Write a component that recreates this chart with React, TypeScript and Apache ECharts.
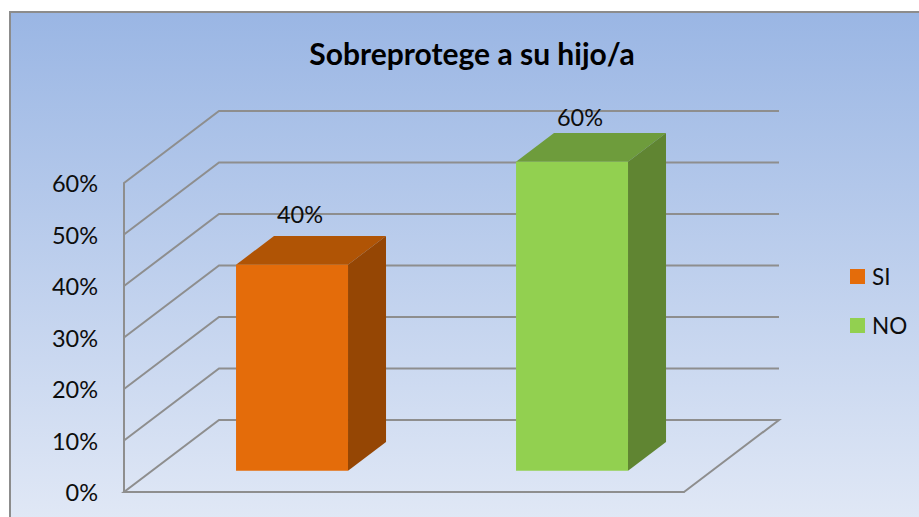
import React, { useEffect, useRef } from "react";
import * as echarts from "echarts";

const titleText = "Sobreprotege a su hijo/a";
const categories = ["SI", "NO"];
const values = [0.4, 0.6];
const axisTicks = [0, 0.1, 0.2, 0.3, 0.4, 0.5, 0.6];
const frontColors = ["#E46C0A", "#92D050"];
const topColors = ["#B05405", "#6E9C3C"];
const sideColors = ["#954604", "#608532"];

const FONT = "Lato, Carlito, 'Open Sans', sans-serif";
const LINE = "#8E8E8E";
const DEPTH_X = 95;
const DEPTH_Y = -72;

const pct = (v: number) => `${Math.round(v * 100)}%`;

export default function App() {
  const ref = useRef<HTMLDivElement>(null);
  useEffect(() => {
    const chart = echarts.init(ref.current!, undefined, { renderer: "svg" });

    const wallItem = (params: any, api: any) => {
      const v = api.value(0);
      const [x0, y0] = api.coord([0, v]);
      const bw = api.size([1, 0])[0];
      const x1 = x0 - bw / 2;
      const x2 = x1 + bw * 2;
      const points =
        v === 0
          ? [
              [x2, y0],
              [x1, y0],
              [x1 + DEPTH_X, y0 + DEPTH_Y],
              [x2 + DEPTH_X, y0 + DEPTH_Y],
              [x2, y0],
            ]
          : [
              [x1, y0],
              [x1 + DEPTH_X, y0 + DEPTH_Y],
              [x2 + DEPTH_X, y0 + DEPTH_Y],
            ];
      return {
        type: "polyline",
        shape: { points },
        style: { stroke: LINE, lineWidth: 2, fill: "none" },
      };
    };

    const barItem = (idx: number) => (params: any, api: any) => {
      const cat = api.value(0);
      const val = api.value(1);
      const [cx, yTop0] = api.coord([cat, val]);
      const [, yBase0] = api.coord([cat, 0]);
      const bw = api.size([1, 0])[0] * 0.4;
      const ox = DEPTH_X * 0.295;
      const oy = DEPTH_Y * 0.295;
      const dx = DEPTH_X * 0.4;
      const dy = DEPTH_Y * 0.4;
      const l = cx - bw / 2 + ox;
      const r = cx + bw / 2 + ox;
      const t = yTop0 + oy;
      const b = yBase0 + oy;
      const poly = (points: number[][], fill: string) => ({
        type: "polygon",
        shape: { points },
        style: { fill },
      });
      return {
        type: "group",
        children: [
          poly([[l, t], [r, t], [r + dx, t + dy], [l + dx, t + dy]], topColors[idx]),
          poly([[r, t], [r + dx, t + dy], [r + dx, b + dy], [r, b]], sideColors[idx]),
          poly([[l, t], [r, t], [r, b], [l, b]], frontColors[idx]),
          {
            type: "text",
            style: {
              x: cx + ox + 8,
              y: t + dy - (idx === 0 ? 22 : 16),
              text: pct(val),
              align: "center",
              verticalAlign: "middle",
              fill: "#0D0D0D",
              font: `23.5px ${FONT}`,
            },
          },
        ],
      };
    };

    chart.setOption({
      animation: false,
      backgroundColor: "#FFFFFF",
      graphic: [
        {
          type: "rect",
          z: -10,
          silent: true,
          shape: { x: 10, y: 12, width: 920, height: 520 },
          style: {
            fill: new echarts.graphic.LinearGradient(0, 0, 0, 1, [
              { offset: 0, color: "#9AB6E4" },
              { offset: 1, color: "#E2E9F6" },
            ]),
            stroke: "#8C8C8C",
            lineWidth: 2,
          },
        },
      ],
      title: {
        text: titleText,
        left: 467,
        top: 33,
        textAlign: "center",
        textStyle: { fontFamily: FONT, fontSize: 30, fontWeight: "bold", color: "#000000" },
      },
      legend: {
        orient: "vertical",
        left: 845,
        top: 260,
        itemWidth: 15,
        itemHeight: 15,
        itemGap: 26,
        data: categories.map((name) => ({ name, icon: "rect" })),
        textStyle: { fontFamily: FONT, fontSize: 22.5, color: "#0D0D0D", padding: [0, 0, 0, 2] },
      },
      grid: { left: 124, top: 183, width: 560, height: 309 },
      xAxis: {
        type: "category",
        data: categories,
        axisLabel: { show: false },
        axisTick: { show: false },
        axisLine: { show: true, lineStyle: { color: LINE, width: 2 } },
      },
      yAxis: {
        type: "value",
        min: 0,
        max: 0.6,
        interval: 0.1,
        axisLabel: {
          formatter: (v: number) => pct(v),
          margin: 26,
          padding: [2, 0, 0, 0],
          fontFamily: FONT,
          fontSize: 23.5,
          color: "#0D0D0D",
        },
        axisTick: { show: false },
        axisLine: { show: true, lineStyle: { color: LINE, width: 2 } },
        splitLine: { show: false },
      },
      series: [
        {
          type: "custom",
          name: "walls",
          z: 1,
          silent: true,
          data: axisTicks.map((v) => [v]),
          encode: { y: 0 },
          renderItem: wallItem,
        },
        ...categories.map((name, i) => ({
          type: "custom",
          name,
          z: 3,
          silent: true,
          itemStyle: { color: frontColors[i] },
          data: [[i, values[i]]],
          encode: { x: 0, y: 1 },
          renderItem: barItem(i),
        })),
      ],
    });
    return () => chart.dispose();
  }, []);
  return (
    <div
      ref={ref}
      style={{ position: "absolute", left: 0, top: 0, width: 919, height: 517 }}
    />
  );
}
